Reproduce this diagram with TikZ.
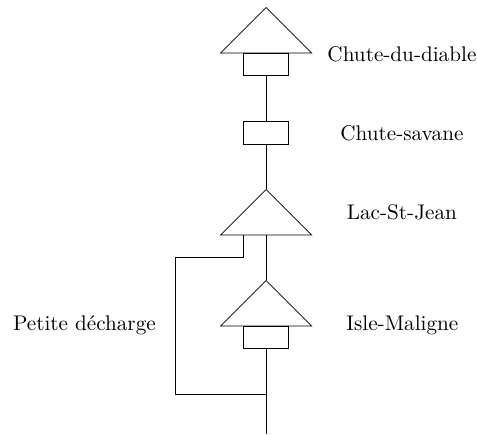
\documentclass[tikz,border=0pt]{standalone}
\usetikzlibrary{shapes.geometric}
\tikzset{
  dam/.style={draw, isosceles triangle, isosceles triangle apex angle=90,
    shape border rotate=90, inner sep=0pt, minimum height=0.8cm, outer sep=0pt},
  plant/.style={draw, rectangle, inner sep=0pt, minimum width=0.8cm, minimum height=0.4cm, outer sep=0pt},
  lbl/.style={font=\fontsize{10.6}{12}\selectfont}
}
\begin{document}
\begin{tikzpicture}[x=0.4cm, y=0.4cm]
\useasboundingbox (0,-0.04) rectangle (20.97,19.08);
% upper reservoir
\node [dam, anchor=apex] (diable) at (11.7,18.75) {};
\node [plant, anchor=north] (diablebox) at (diable.lower side) {};
\node [plant] (savane) at (11.7,13.25) {};
\node [dam, anchor=apex] (lac) at (11.7,10.75) {};
\node [dam, anchor=apex] (isle) at (11.7,6.75) {};
\node [plant, anchor=north] (islebox) at (isle.lower side) {};
\coordinate (branch) at (10.7,7.75);
\coordinate (corner) at (7.72,7.75);
\coordinate (low) at (7.72,1.75);
\coordinate (join) at (11.7,1.75);
\coordinate (outlet) at (11.7,0);
% main course
\draw (diablebox.south) -- (savane.north);
\draw (savane.south) -- (lac.apex);
\draw (lac.lower side) -- (isle.apex);
\draw (islebox.south) -- (join) -- (outlet);
% petite decharge
\draw (lac.lower side -| branch) -- (branch) -- (corner) -- (low) -- (join);
% labels
\node [lbl] (lblDiable) at (17.67,16.7) {Chute-du-diable};
\node [lbl] (lblSavane) at (17.67,13.23) {Chute-savane};
\node [lbl] (lblLac) at (17.67,9.76) {Lac-St-Jean};
\node [lbl] (lblIsle) at (17.69,4.76) {Isle-Maligne};
\node [lbl] (lblPetite) at (3.71,4.76) {Petite décharge};
\end{tikzpicture}
\end{document}
